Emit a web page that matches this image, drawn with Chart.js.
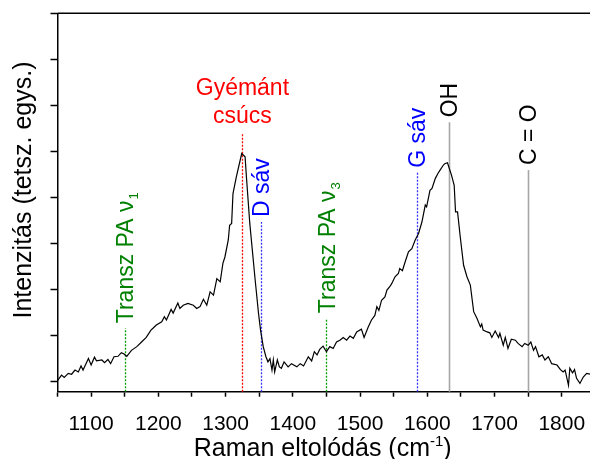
<!DOCTYPE html>
<html>
<head>
<meta charset="utf-8">
<script src="https://cdn.jsdelivr.net/npm/chart.js@4/dist/chart.umd.min.js"></script>
<style>
  body { margin: 0; background: #fff; }
  canvas { display: block; }
</style>
</head>
<body>
<canvas id="ramanChart" width="590" height="459"></canvas>
<script>
// Spektrum (leolvasva)
const ramanShift = [
  1050, 1056, 1060, 1066, 1071, 1076, 1081, 1085, 1088, 1096,
  1100, 1105, 1108, 1116, 1120, 1125, 1129, 1134, 1140, 1145,
  1149, 1153, 1160, 1168, 1175, 1182, 1189, 1192, 1197, 1205,
  1209, 1212, 1219, 1222, 1229, 1232, 1237, 1244, 1252, 1257,
  1262, 1267, 1272, 1277, 1282, 1287, 1292, 1296, 1299, 1304,
  1306, 1309, 1311, 1316, 1324, 1329, 1331, 1336, 1344, 1349,
  1352, 1356, 1360, 1363, 1366, 1369, 1371, 1373, 1377, 1380,
  1383, 1387, 1393, 1398, 1406, 1411, 1416, 1423, 1428, 1432,
  1436, 1440, 1445, 1450, 1455, 1460, 1465, 1470, 1475, 1480,
  1485, 1490, 1495, 1502, 1506, 1512, 1517, 1522, 1525, 1528,
  1532, 1537, 1540, 1545, 1547, 1552, 1557, 1559, 1563, 1567,
  1572, 1577, 1582, 1587, 1592, 1597, 1599, 1604, 1607, 1612,
  1616, 1619, 1624, 1626, 1630, 1636, 1640, 1642, 1645, 1649,
  1654, 1659, 1664, 1669, 1674, 1679, 1681, 1683, 1689, 1693,
  1696, 1701, 1706, 1708, 1713, 1716, 1720, 1725, 1731, 1735,
  1741, 1745, 1750, 1754, 1758, 1761, 1766, 1771, 1775, 1780,
  1785, 1793, 1798, 1802, 1805, 1810, 1812, 1816, 1819, 1822,
  1827, 1832, 1837, 1842
];
const intensity = [
  0.01, 0.13, 0.08, 0.17, 0.15, 0.24, 0.20, 0.33, 0.24, 0.49,
  0.35, 0.52, 0.44, 0.46, 0.40, 0.47, 0.38, 0.53, 0.54, 0.62,
  0.59, 0.54, 0.67, 0.75, 0.85, 0.95, 1.11, 1.15, 1.22, 1.29,
  1.40, 1.33, 1.56, 1.48, 1.70, 1.58, 1.65, 1.69, 1.65, 1.58,
  1.62, 1.78, 1.65, 1.94, 1.87, 2.23, 2.16, 2.56, 2.70, 3.07,
  3.39, 3.43, 4.08, 4.44, 4.95, 4.88, 4.44, 3.43, 2.20, 1.47,
  1.11, 0.75, 0.53, 0.42, 0.49, 0.24, 0.46, 0.20, 0.46, 0.31,
  0.28, 0.42, 0.31, 0.38, 0.31, 0.38, 0.33, 0.53, 0.44, 0.64,
  0.57, 0.69, 0.76, 0.64, 0.75, 0.71, 0.85, 0.89, 0.95, 0.89,
  0.98, 0.93, 1.07, 1.13, 0.95, 1.17, 1.33, 1.43, 1.62, 1.54,
  1.76, 1.83, 1.98, 2.07, 2.12, 2.27, 2.34, 2.45, 2.40, 2.59,
  2.81, 2.88, 3.07, 3.21, 3.46, 3.83, 3.79, 4.15, 4.19, 4.41,
  4.52, 4.59, 4.70, 4.73, 4.75, 4.48, 4.26, 3.68, 3.68, 3.14,
  2.52, 2.27, 2.09, 1.51, 1.36, 1.18, 1.24, 1.11, 1.07, 1.05,
  0.95, 1.09, 0.95, 1.04, 0.78, 0.95, 0.71, 0.91, 0.89, 0.82,
  0.75, 0.82, 0.78, 0.85, 0.67, 0.75, 0.53, 0.57, 0.46, 0.53,
  0.38, 0.35, 0.25, 0.20, 0.24, -0.09, 0.28, 0.18, 0.25, 0.06,
  -0.05, 0.09, 0.17, 0.15
];

// Jelölt sávok
const markerShift = [1150, 1325, 1352, 1450, 1584, 1632, 1750];
const markerTop = [1.15, 5.39, 3.46, 1.37, 4.53, 5.63, 4.59];
const markerText = ['Transz PA ν', 'Gyémánt|csúcs', 'D sáv', 'Transz PA ν', 'G sáv', 'OH', 'C = O'];
const markerSub = ['1', '', '', '3', '', '', ''];

// stílus
const markerLine = ['#00a000', '#ff0000', '#3333ff', '#00a000', '#3333ff', '#a6a6a6', '#a6a6a6'];
const markerTextColor = ['#008000', '#ff0000', '#0000ff', '#008000', '#0000ff', '#000000', '#000000'];
const markerDotted = [true, true, true, true, true, false, false];

const FONT = "'Liberation Sans', Arial, sans-serif";

const annotations = {
  id: 'annotations',
  beforeDatasetsDraw(chart) {
    const {ctx, chartArea: a, scales: {x, y}} = chart;
    ctx.save();
    markerShift.forEach((v, i) => {
      const px = Math.round(x.getPixelForValue(v)) + 0.5;
      const top = y.getPixelForValue(markerTop[i]);
      ctx.strokeStyle = markerLine[i];
      ctx.lineWidth = markerDotted[i] ? 1.3 : 1.6;
      ctx.setLineDash(markerDotted[i] ? [2, 1.5] : []);
      ctx.beginPath();
      ctx.moveTo(px, a.bottom);
      ctx.lineTo(px, top);
      ctx.stroke();
    });
    ctx.restore();
  },
  afterDatasetsDraw(chart) {
    const {ctx, chartArea: a, scales: {x, y}} = chart;
    ctx.save();
    // felső keret
    ctx.strokeStyle = '#000';
    ctx.lineWidth = 1.5;
    ctx.beginPath();
    ctx.moveTo(a.left, a.top);
    ctx.lineTo(a.right, a.top);
    ctx.stroke();

    const fs = 23;
    markerShift.forEach((v, i) => {
      const px = x.getPixelForValue(v);
      const top = y.getPixelForValue(markerTop[i]);
      ctx.fillStyle = markerTextColor[i];
      ctx.font = fs + 'px ' + FONT;
      const parts = markerText[i].split('|');
      if (parts.length > 1) {
        // vízszintes felirat
        ctx.textAlign = 'center';
        ctx.textBaseline = 'alphabetic';
        ctx.fillText(parts[0], px, top - 38);
        ctx.fillText(parts[1], px, top - 10);
        return;
      }
      ctx.save();
      ctx.translate(px + 0.36 * fs, top - 5);
      ctx.rotate(-Math.PI / 2);
      ctx.textAlign = 'left';
      ctx.textBaseline = 'alphabetic';
      ctx.fillText(parts[0], 0, 0);
      if (markerSub[i]) {
        const w = ctx.measureText(parts[0]).width;
        ctx.font = '13px ' + FONT;
        ctx.fillText(markerSub[i], w + 1, 5);
      }
      ctx.restore();
    });

    // tengelyfeliratok
    ctx.fillStyle = '#000';
    ctx.font = '25px ' + FONT;
    ctx.save();
    ctx.translate(31, 190);
    ctx.rotate(-Math.PI / 2);
    ctx.textAlign = 'center';
    ctx.textBaseline = 'alphabetic';
    ctx.fillText('Intenzitás (tetsz. egys.)', 0, 0);
    ctx.restore();

    const t1 = 'Raman eltolódás (cm', sup = '-1', t2 = ')';
    ctx.font = '25px ' + FONT;
    const w1 = ctx.measureText(t1).width, w3 = ctx.measureText(t2).width;
    ctx.font = '15px ' + FONT;
    const w2 = ctx.measureText(sup).width;
    let sx = (a.left + a.right) / 2 - 1 - (w1 + w2 + w3) / 2;
    const by = 456;
    ctx.textAlign = 'left';
    ctx.font = '25px ' + FONT;
    ctx.fillText(t1, sx, by);
    ctx.font = '15px ' + FONT;
    ctx.fillText(sup, sx + w1, by - 10);
    ctx.font = '25px ' + FONT;
    ctx.fillText(t2, sx + w1 + w2, by);
    ctx.restore();
  }
};

Chart.defaults.font.family = FONT;
Chart.defaults.color = '#000';

new Chart(document.getElementById('ramanChart'), {
  type: 'scatter',
  data: {
    datasets: [{
      data: ramanShift.map((v, i) => ({x: v, y: intensity[i]})),
      showLine: true,
      borderColor: '#000',
      borderWidth: 1.2,
      pointRadius: 0,
      tension: 0
    }]
  },
  options: {
    responsive: false,
    animation: false,
    layout: { padding: { top: 13.3, right: 0, left: 0, bottom: 0 } },
    plugins: { legend: { display: false }, tooltip: { enabled: false } },
    scales: {
      x: {
        type: 'linear',
        min: 1050,
        max: 1842,
        border: { display: true, color: '#000', width: 1.5 },
        grid: { drawOnChartArea: false, drawTicks: true, tickLength: 5, tickColor: '#000', tickWidth: 1.5 },
        ticks: {
          stepSize: 50,
          includeBounds: false,
          autoSkip: false,
          maxRotation: 0,
          padding: 15,
          font: { size: 21 },
          callback: v => (v % 100 === 0 ? String(v) : '')
        },
        afterFit: s => { s.height = 67.3; s.paddingLeft = 0; s.paddingRight = 0; }
      },
      y: {
        min: -0.23,
        max: 8,
        border: { display: true, color: '#000', width: 1.5 },
        grid: { drawOnChartArea: false, drawTicks: true, tickLength: 7, tickColor: '#000', tickWidth: 1.5 },
        ticks: { stepSize: 1, includeBounds: false, display: false },
        afterFit: s => { s.width = 57.5; }
      }
    }
  },
  plugins: [annotations]
});
</script>
</body>
</html>
